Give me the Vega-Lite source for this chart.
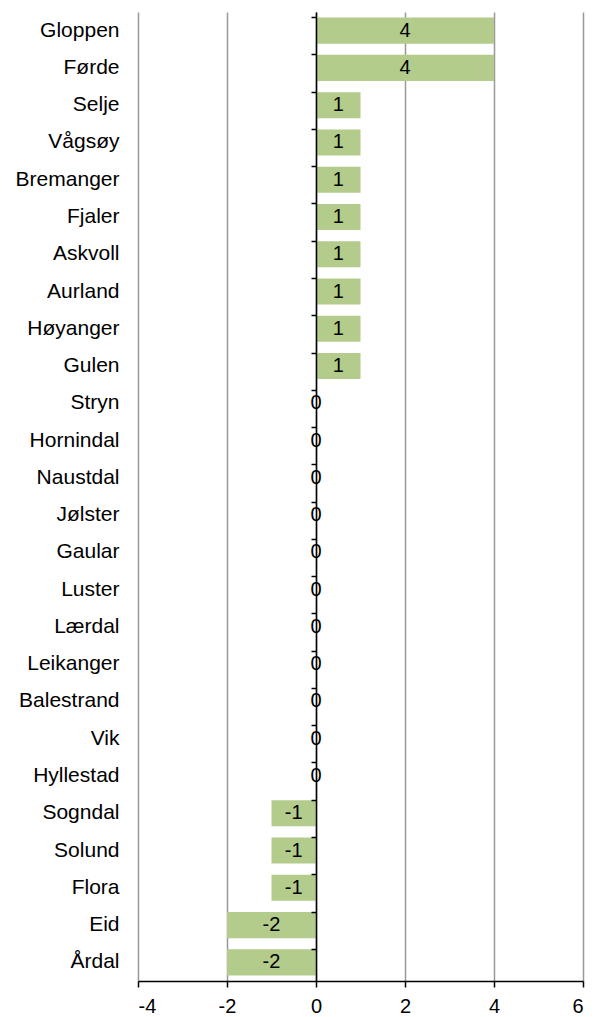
{
  "$schema": "https://vega.github.io/schema/vega-lite/v6.json",
  "width": 445,
  "height": 969,
  "padding": {"left": 15, "top": 12, "right": 13, "bottom": 0},
  "autosize": {"type": "pad"},
  "config": {"view": {"stroke": null}, "font": "Liberation Sans"},
  "data": {"values": [
    {"name": "Gloppen", "v": 4},
    {"name": "Førde", "v": 4},
    {"name": "Selje", "v": 1},
    {"name": "Vågsøy", "v": 1},
    {"name": "Bremanger", "v": 1},
    {"name": "Fjaler", "v": 1},
    {"name": "Askvoll", "v": 1},
    {"name": "Aurland", "v": 1},
    {"name": "Høyanger", "v": 1},
    {"name": "Gulen", "v": 1},
    {"name": "Stryn", "v": 0},
    {"name": "Hornindal", "v": 0},
    {"name": "Naustdal", "v": 0},
    {"name": "Jølster", "v": 0},
    {"name": "Gaular", "v": 0},
    {"name": "Luster", "v": 0},
    {"name": "Lærdal", "v": 0},
    {"name": "Leikanger", "v": 0},
    {"name": "Balestrand", "v": 0},
    {"name": "Vik", "v": 0},
    {"name": "Hyllestad", "v": 0},
    {"name": "Sogndal", "v": -1},
    {"name": "Solund", "v": -1},
    {"name": "Flora", "v": -1},
    {"name": "Eid", "v": -2},
    {"name": "Årdal", "v": -2}
  ]},
  "transform": [{"calculate": "datum.v / 2", "as": "mid"}],
  "layer": [
    {
      "mark": {"type": "bar", "color": "#b3cb8b"},
      "encoding": {
        "y": {
          "field": "name", "type": "nominal", "sort": null,
          "scale": {"paddingInner": 0.3, "paddingOuter": 0.15},
          "axis": {"title": null, "domain": false, "ticks": false, "labelPadding": 19, "labelFontSize": 21, "labelColor": "#000", "labelLimit": 300}
        },
        "x": {
          "field": "v", "type": "quantitative",
          "scale": {"domain": [-4, 6], "nice": false, "zero": false},
          "axis": {"title": null, "values": [-4, -2, 0, 2, 4, 6], "labelExpr": "'' + datum.value", "grid": true, "gridColor": "#999999", "gridWidth": 1.5, "domainColor": "#000", "domainWidth": 1.5, "tickColor": "#000", "tickSize": 6, "tickWidth": 1.5, "labelFontSize": 20, "labelColor": "#000", "labelPadding": 9}
        }
      }
    },
    {
      "mark": {"type": "text", "fontSize": 20, "color": "#000"},
      "encoding": {
        "y": {
          "field": "name", "type": "nominal", "sort": null,
          "axis": {"title": null, "orient": "left", "offset": -178, "labels": false, "domain": true, "domainColor": "#000", "domainWidth": 1.5, "ticks": true, "tickColor": "#000", "tickWidth": 1.5, "tickSize": 5, "bandPosition": 0, "zindex": 1}
        },
        "x": {"field": "mid", "type": "quantitative"},
        "text": {"field": "v", "type": "nominal"}
      }
    }
  ],
  "resolve": {"axis": {"y": "independent"}}
}
